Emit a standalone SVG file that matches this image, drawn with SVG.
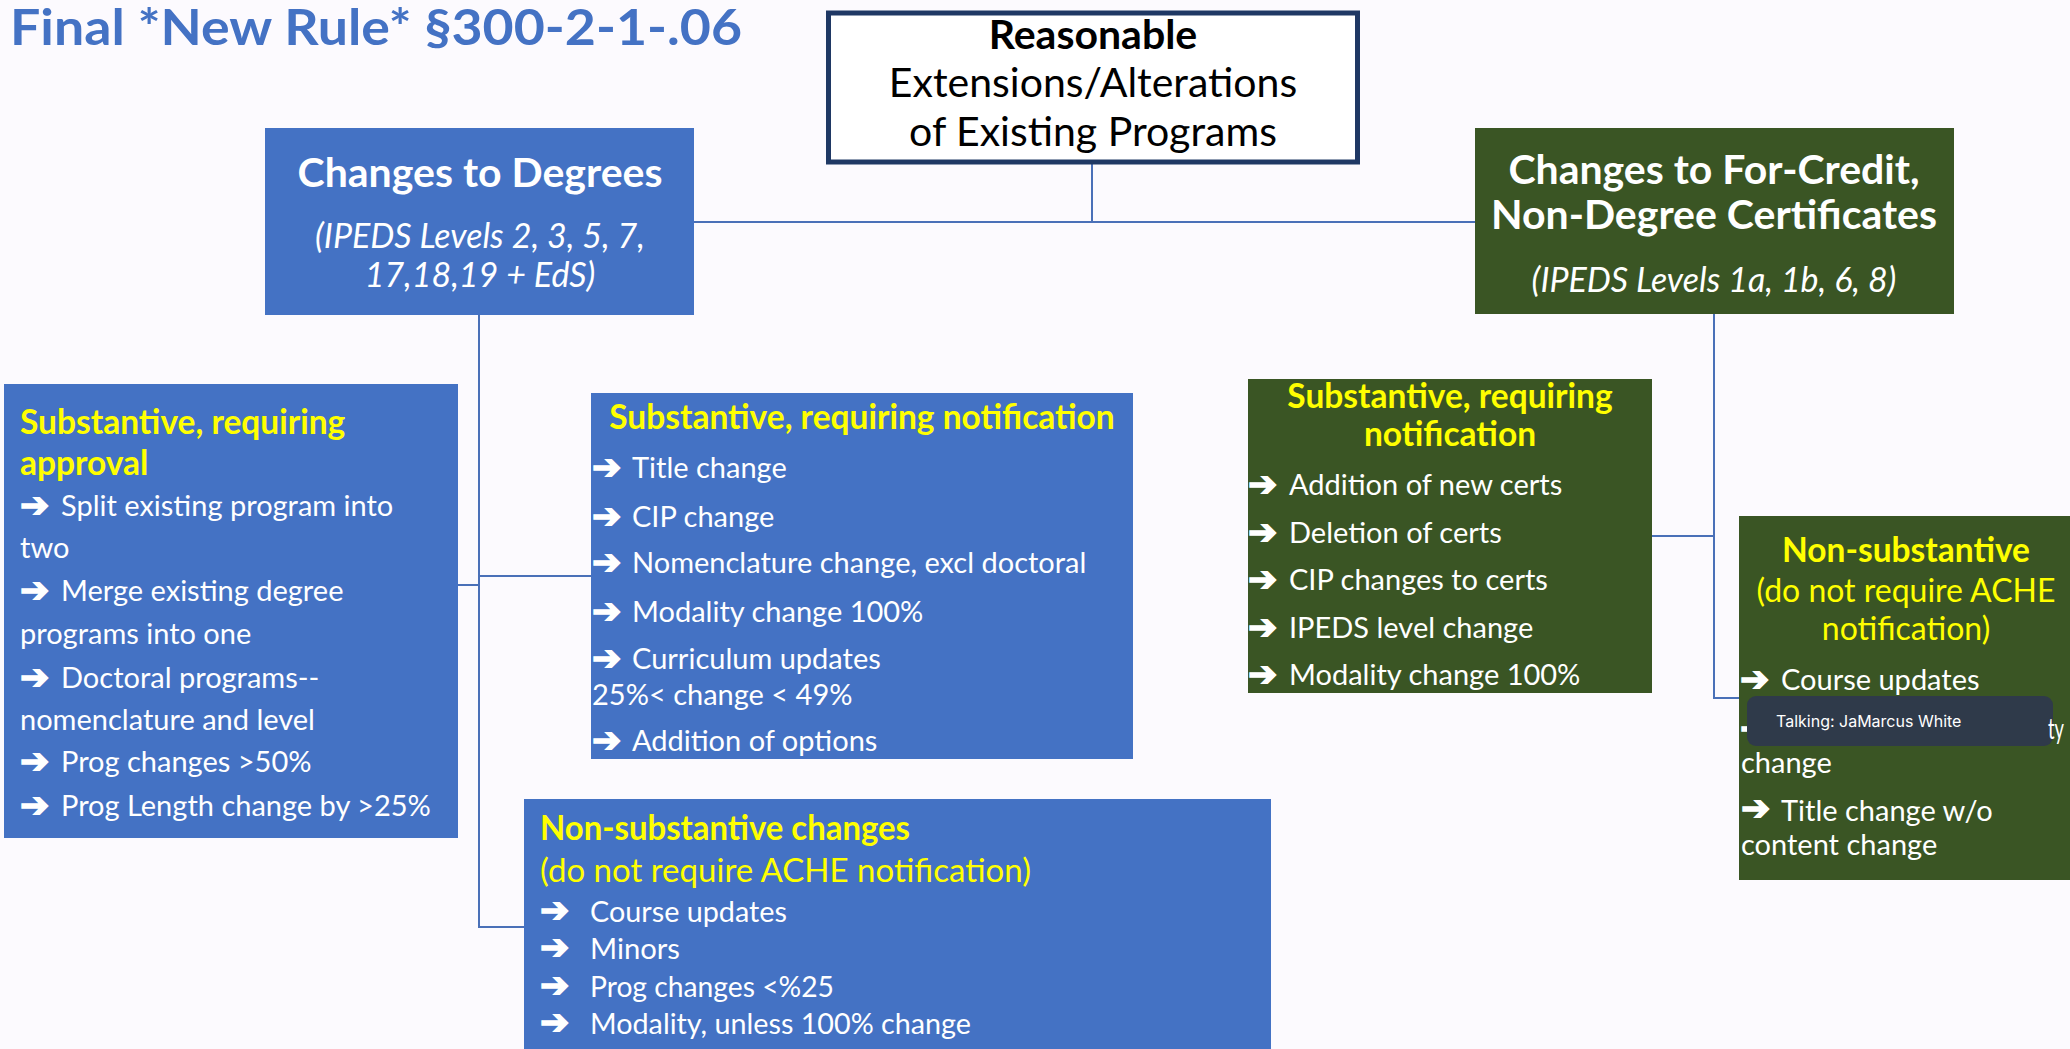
<svg xmlns="http://www.w3.org/2000/svg" width="2070" height="1049" viewBox="0 0 2070 1049">
<style>
.t{font-family:Lato,"Open Sans","Noto Sans",sans-serif}
.hdr{font-family:Lato,"Open Sans",sans-serif;font-weight:bold;fill:#FFFF00;font-size:33.5px}
.sub{font-family:Lato,"Open Sans",sans-serif;fill:#FFFF00;font-size:32px}
.it{font-family:Lato,"Open Sans",sans-serif;fill:#FFFFFF;font-size:29px}
.ar{font-family:"DejaVu Sans",sans-serif;font-weight:bold;fill:#FFFFFF;stroke:#FFFFFF;stroke-width:1.4;font-size:35px}
.big{font-family:Lato,"Open Sans",sans-serif;font-weight:bold;fill:#FFFFFF;font-size:41px;text-anchor:middle}
.ital{font-family:Lato,"Open Sans",sans-serif;font-style:italic;fill:#FFFFFF;font-size:34px;text-anchor:middle}
.blue{fill:#4472C4}
.green{fill:#3A5524}
.conn{stroke:#4A70B8;stroke-width:2;fill:none}
</style>
<rect width="2070" height="1049" fill="#FCFAFE"/>
<text class="t" x="10" y="45" font-size="50" font-weight="bold" fill="#4472C4" textLength="732" lengthAdjust="spacingAndGlyphs">Final *New Rule* §300-2-1-.06</text>

<g id="connectors">
<path class="conn" d="M1092 164 V222 M694 222 H1475"/>
<path class="conn" d="M479 315 V927 H524 M458 585 H479 M479 576 H591"/>
<path class="conn" d="M1714 314 V698 H1739 M1652 536 H1714"/>
</g>

<g id="root">
<rect x="828.5" y="13" width="529" height="149" fill="#FFFFFF" stroke="#1F3864" stroke-width="5"/>
<text class="t" x="1093" y="49" font-size="41" font-weight="bold" fill="#000" text-anchor="middle">Reasonable</text>
<text class="t" x="1093" y="97" font-size="41" fill="#000" text-anchor="middle">Extensions/Alterations</text>
<text class="t" x="1093" y="146" font-size="41" fill="#000" text-anchor="middle">of Existing Programs</text>
</g>

<g id="degrees">
<rect class="blue" x="265" y="128" width="429" height="187"/>
<text class="big" x="480" y="187">Changes to Degrees</text>
<text class="ital" x="480" y="248">(IPEDS Levels 2, 3, 5, 7,</text>
<text class="ital" x="480" y="287">17,18,19 + EdS)</text>
</g>

<g id="certificates">
<rect class="green" x="1475" y="128" width="479" height="186"/>
<text class="big" x="1714" y="184">Changes to For-Credit,</text>
<text class="big" x="1714" y="229">Non-Degree Certificates</text>
<text class="ital" x="1714" y="292">(IPEDS Levels 1a, 1b, 6, 8)</text>
</g>

<g id="deg-approval">
<rect class="blue" x="4" y="384" width="454" height="454"/>
<text class="hdr" x="20" y="434">Substantive, requiring</text>
<text class="hdr" x="20" y="475">approval</text>
<text class="ar" x="20" y="517">➔</text><text class="it" x="61" y="516">Split existing program into</text>
<text class="it" x="20" y="558">two</text>
<text class="ar" x="20" y="602">➔</text><text class="it" x="61" y="601">Merge existing degree</text>
<text class="it" x="20" y="644">programs into one</text>
<text class="ar" x="20" y="689">➔</text><text class="it" x="61" y="688">Doctoral programs--</text>
<text class="it" x="20" y="730">nomenclature and level</text>
<text class="ar" x="20" y="773">➔</text><text class="it" x="61" y="772">Prog changes &gt;50%</text>
<text class="ar" x="20" y="817">➔</text><text class="it" x="61" y="816">Prog Length change by &gt;25%</text>
</g>

<g id="deg-notification">
<rect class="blue" x="591" y="393" width="542" height="366"/>
<text class="hdr" x="862" y="429" text-anchor="middle">Substantive, requiring notification</text>
<text class="ar" x="592" y="479">➔</text><text class="it" x="632" y="478">Title change</text>
<text class="ar" x="592" y="528">➔</text><text class="it" x="632" y="527">CIP change</text>
<text class="ar" x="592" y="574">➔</text><text class="it" x="632" y="573">Nomenclature change, excl doctoral</text>
<text class="ar" x="592" y="623">➔</text><text class="it" x="632" y="622">Modality change 100%</text>
<text class="ar" x="592" y="670">➔</text><text class="it" x="632" y="669">Curriculum updates</text>
<text class="it" x="592" y="705">25%&lt; change &lt; 49%</text>
<text class="ar" x="592" y="752">➔</text><text class="it" x="632" y="751">Addition of options</text>
</g>

<g id="deg-nonsub">
<rect class="blue" x="524" y="799" width="747" height="260"/>
<text class="hdr" x="540" y="840" textLength="370" lengthAdjust="spacingAndGlyphs">Non-substantive changes</text>
<text class="sub" x="540" y="882" textLength="491" lengthAdjust="spacingAndGlyphs">(do not require ACHE notification)</text>
<text class="ar" x="540" y="922" font-size="30">➔</text><text class="it" x="590" y="922" textLength="197" lengthAdjust="spacingAndGlyphs">Course updates</text>
<text class="ar" x="540" y="959" font-size="30">➔</text><text class="it" x="590" y="959" textLength="90" lengthAdjust="spacingAndGlyphs">Minors</text>
<text class="ar" x="540" y="997" font-size="30">➔</text><text class="it" x="590" y="997" textLength="244" lengthAdjust="spacingAndGlyphs">Prog changes &lt;%25</text>
<text class="ar" x="540" y="1034" font-size="30">➔</text><text class="it" x="590" y="1034" textLength="381" lengthAdjust="spacingAndGlyphs">Modality, unless 100% change</text>
</g>

<g id="cert-notification">
<rect class="green" x="1248" y="379" width="404" height="314"/>
<text class="hdr" x="1450" y="408" text-anchor="middle">Substantive, requiring</text>
<text class="hdr" x="1450" y="446" text-anchor="middle">notification</text>
<text class="ar" x="1248" y="496">➔</text><text class="it" x="1289" y="495">Addition of new certs</text>
<text class="ar" x="1248" y="544">➔</text><text class="it" x="1289" y="543">Deletion of certs</text>
<text class="ar" x="1248" y="591">➔</text><text class="it" x="1289" y="590">CIP changes to certs</text>
<text class="ar" x="1248" y="639">➔</text><text class="it" x="1289" y="638">IPEDS level change</text>
<text class="ar" x="1248" y="686">➔</text><text class="it" x="1289" y="685">Modality change 100%</text>
</g>

<g id="cert-nonsub">
<rect class="green" x="1739" y="516" width="340" height="364"/>
<text class="hdr" x="1906" y="562" text-anchor="middle">Non-substantive</text>
<text class="sub" x="1906" y="602" text-anchor="middle">(do not require ACHE</text>
<text class="sub" x="1906" y="640" text-anchor="middle">notification)</text>
<text class="ar" x="1740" y="691">➔</text><text class="it" x="1781" y="690">Course updates</text>
<text class="ar" x="1740" y="740">➔</text>
<text class="it" x="1741" y="773">change</text>
<text class="ar" x="1741" y="820" font-size="31">➔</text><text class="it" x="1781" y="821">Title change w/o</text>
<text class="it" x="1741" y="855">content change</text>
</g>

<g id="tooltip">
<rect x="1747" y="696" width="306" height="50" rx="9" fill="#2F3A4A"/>
<text x="1776" y="727" font-family="Inter,'Liberation Sans',sans-serif" font-size="16" fill="#FFFFFF">Talking: JaMarcus White</text>
</g>
<text class="it" x="2048" y="739" textLength="16" lengthAdjust="spacingAndGlyphs">ty</text>
</svg>
